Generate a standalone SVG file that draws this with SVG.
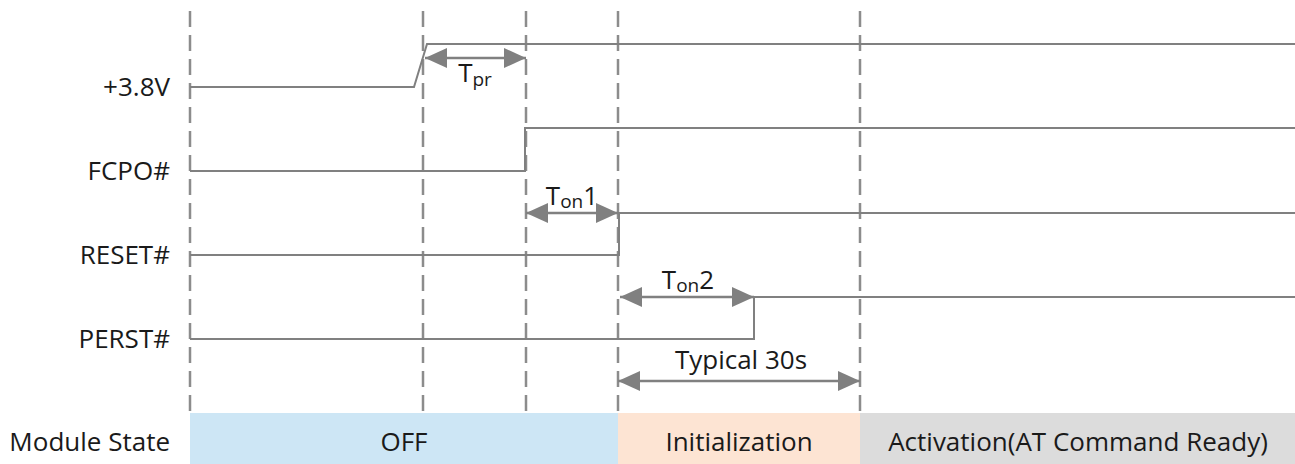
<svg xmlns="http://www.w3.org/2000/svg" width="1295" height="464" viewBox="0 0 1295 464">
<defs>
<style>
.lbl{font-family:"Open Sans","Noto Sans","Liberation Sans",sans-serif;font-size:26px;fill:#1a1a1a;}
.sub{font-size:19px;}
.sig{fill:none;stroke:#808080;stroke-width:2;}
.dash{fill:none;stroke:#8c8c8c;stroke-width:2.5;stroke-dasharray:16 8;}
.dim{fill:none;stroke:#808080;stroke-width:2.5;}
</style>
<marker id="ah" viewBox="0 0 22 20" refX="22" refY="10" markerWidth="22" markerHeight="20" markerUnits="userSpaceOnUse" orient="auto-start-reverse">
<path d="M0,0 L22,10 L0,20 Z" fill="#808080"/>
</marker>
</defs>
<g id="state-bar">
<rect x="190" y="413" width="428" height="51" fill="#cde6f5"/>
<rect x="618" y="413" width="242" height="51" fill="#fde4d3"/>
<rect x="860" y="413" width="435" height="51" fill="#dcdcdc"/>
<text class="lbl" x="404" y="451" text-anchor="middle">OFF</text>
<text class="lbl" x="739" y="451" text-anchor="middle">Initialization</text>
<text class="lbl" x="1078" y="451" text-anchor="middle">Activation(AT Command Ready)</text>
</g>
<g id="labels">
<text class="lbl" x="170" y="96" text-anchor="end">+3.8V</text>
<text class="lbl" x="170" y="180" text-anchor="end">FCPO#</text>
<text class="lbl" x="170" y="264" text-anchor="end">RESET#</text>
<text class="lbl" x="170" y="348" text-anchor="end">PERST#</text>
<text class="lbl" x="170" y="451" text-anchor="end">Module State</text>
</g>
<g id="gridlines">
<line class="dash" x1="190" y1="11" x2="190" y2="413"/>
<line class="dash" x1="423" y1="11" x2="423" y2="413"/>
<line class="dash" x1="526" y1="11" x2="526" y2="413"/>
<line class="dash" x1="618" y1="11" x2="618" y2="413"/>
<line class="dash" x1="860" y1="11" x2="860" y2="413"/>
</g>
<g id="signals">
<polyline class="sig" points="190,87 414,87 427,44 1295,44"/>
<polyline class="sig" points="190,171 525,171 525,128 1295,128"/>
<polyline class="sig" points="190,255 619,255 619,213 1295,213"/>
<polyline class="sig" points="190,339 754,339 754,297 1295,297"/>
</g>
<g id="connectors">
<line class="dim" x1="425" y1="58" x2="526" y2="58" marker-start="url(#ah)" marker-end="url(#ah)"/>
<line class="dim" x1="526" y1="213" x2="618" y2="213" marker-start="url(#ah)" marker-end="url(#ah)"/>
<line class="dim" x1="620" y1="297" x2="754" y2="297" marker-start="url(#ah)" marker-end="url(#ah)"/>
<line class="dim" x1="618" y1="381" x2="860" y2="381" marker-start="url(#ah)" marker-end="url(#ah)"/>
</g>
<g id="dim-labels">
<text class="lbl" x="475" y="82" text-anchor="middle">T<tspan class="sub" dy="4">pr</tspan></text>
<text class="lbl" x="572" y="205" text-anchor="middle">T<tspan class="sub" dy="3">on</tspan><tspan dy="-3">1</tspan></text>
<text class="lbl" x="688" y="289" text-anchor="middle">T<tspan class="sub" dy="3">on</tspan><tspan dy="-3">2</tspan></text>
<text class="lbl" x="741" y="369" text-anchor="middle">Typical 30s</text>
</g>
</svg>
